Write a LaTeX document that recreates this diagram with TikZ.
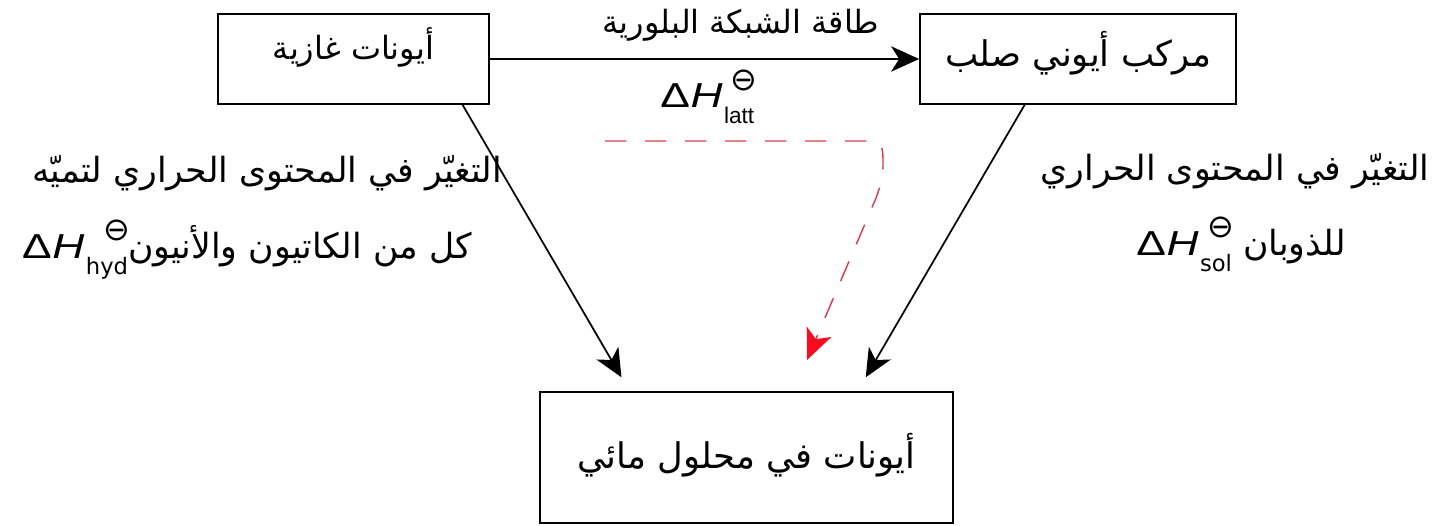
\documentclass[tikz,border=0pt]{standalone}
\usepackage{fontspec}
\setmainfont{Liberation Sans}
\newfontfamily\dhfont[FakeStretch=1.28]{Liberation Sans}
\newfontfamily\symfont{DejaVu Sans}
\newfontfamily\arab[Script=Arabic]{DejaVu Sans}
\TeXXeTstate=1
\usetikzlibrary{arrows.meta,calc}
\definecolor{redd}{RGB}{218,62,82}
\definecolor{redtip}{RGB}{250,12,32}
\newsavebox\subbox
\newcommand\dH[1]{\mbox{{\dhfont\fontsize{26}{30}\selectfont Δ\kern0.5pt\textit{H}}\kern1pt\sbox\subbox{\fontsize{17}{20}\selectfont #1}\raisebox{-12pt}{\vbox{\offinterlineskip\hbox to\wd\subbox{\hfil\symfont\fontsize{24}{24}\selectfont ⊖\kern-2pt}\kern12pt\hbox{\usebox\subbox}}}}}
\tikzset{
  box/.style={draw, line width=1.3pt, inner sep=0pt},
  arabtxt/.style={inner sep=0pt, anchor=base},
  conn/.style={line width=1.3pt, -{Stealth[length=21pt,width=19pt,inset=6pt]}},
  rdash/.style={draw=redd, line width=1.1pt, dash pattern=on 16pt off 14pt, -{Stealth[length=23pt,width=20pt,inset=6pt,color=redtip,fill=redtip]}}
}
\begin{document}
\begin{tikzpicture}[x=0.75pt,y=-0.75pt]
\useasboundingbox (0,0) rectangle (1441,525);
\node[box, minimum width=203.25pt, minimum height=67.5pt] (b1) at (353.5,59) {};
\node[box, minimum width=237pt, minimum height=67.5pt] (b2) at (1078,59) {};
\node[box, minimum width=309.75pt, minimum height=98.25pt] (b3) at (746.5,457.5) {};
\node[arabtxt, font=\arab\fontsize{24}{28}\selectfont] (t1) at (b1.center) {\beginR أيونات غازية\endR};
\node[arabtxt, font=\arab\fontsize{26.5}{30}\selectfont] (t2) at ($(b2.center)+(0,7)$) {\beginR مركب أيوني صلب\endR};
\node[arabtxt, font=\arab\fontsize{26.5}{30}\selectfont] (t3) at ($(b3.center)+(0,10.5)$) {\beginR أيونات في محلول مائي\endR};
\draw[conn] (b1) -- (b2);
\node[arabtxt, font=\arab\fontsize{24}{28}\selectfont] (lt) at (741,33) {\beginR طاقة الشبكة البلورية\endR};
\node[inner sep=0pt, anchor=base west] (ll) at (660,107) {\dH{latt}};
\draw[conn, shorten >=12pt] ($(b1.south west)!0.9!(b1.south east)$) -- ($(b3.north west)!0.218!(b3.north east)$);
\draw[conn, shorten >=12pt] ($(b2.south west)!0.332!(b2.south east)$) -- ($(b3.north west)!0.768!(b3.north east)$);
\node[arabtxt, font=\arab\fontsize{26}{30}\selectfont] (lh1) at (267,182) {\beginR التغيّر في المحتوى الحراري لتميّه\endR};
\node[arabtxt, font=\arab\fontsize{26}{30}\selectfont] (lh2) at (247,258) {\dH{hyd}{\beginR كل من الكاتيون والأنيون\endR}};
\node[arabtxt, font=\arab\fontsize{26}{30}\selectfont] (ls1) at (1235,180) {\beginR التغيّر في المحتوى الحراري\endR};
\node[arabtxt, font=\arab\fontsize{26}{30}\selectfont] (ls2) at (1241,255) {\dH{sol}\ {\beginR للذوبان\endR}};
\coordinate (r0) at (605,141);
\coordinate (r2) at (807,360);
\draw[rdash] (r0) -- (872,141) .. controls (882,141) and (883,150) .. (883,160) .. controls (883,178) .. (876,198) -- (r2);
\end{tikzpicture}
\end{document}
